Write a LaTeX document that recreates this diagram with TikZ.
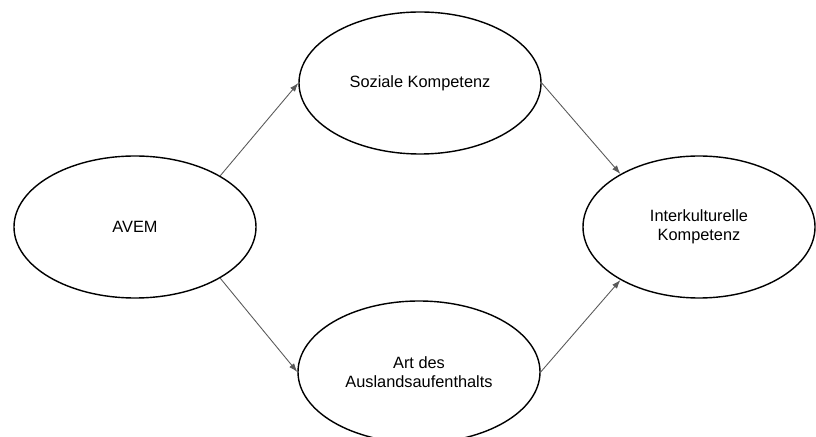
\documentclass[tikz,border=0pt]{standalone}
\usepackage{fontspec}
\setmainfont{Liberation Sans}
\usetikzlibrary{shapes.geometric}
\usetikzlibrary{arrows.meta}

\begin{document}
\begin{tikzpicture}[
  konstrukt/.style={draw, ellipse, line width=0.8pt, inner sep=0pt,
    minimum width=4.84cm, minimum height=2.84cm, align=center,
    font=\fontsize{9.3}{10.5}\selectfont},
  pfeil/.style={draw=black!65, line width=0.5pt, -{Latex[length=5pt,width=3.5pt]}}
]
\useasboundingbox (0,0) rectangle (16.32,8.72);
\node[konstrukt] (avem) at (2.7,4.18) {AVEM};
\node[konstrukt] (sozial) at (8.4,7.06) {Soziale Kompetenz};
\node[konstrukt] (art) at (8.38,1.28) {Art des\\Auslandsaufenthalts};
\node[konstrukt, minimum width=4.64cm] (ikk) at (13.98,4.18) {Interkulturelle\\Kompetenz};

\draw[pfeil] (avem.31) -- (sozial.west);
\draw[pfeil] (avem.-31) -- (art.west);
\draw[pfeil] (sozial.east) -- (ikk.146);
\draw[pfeil] (art.east) -- (ikk.-146);

\end{tikzpicture}
\end{document}
